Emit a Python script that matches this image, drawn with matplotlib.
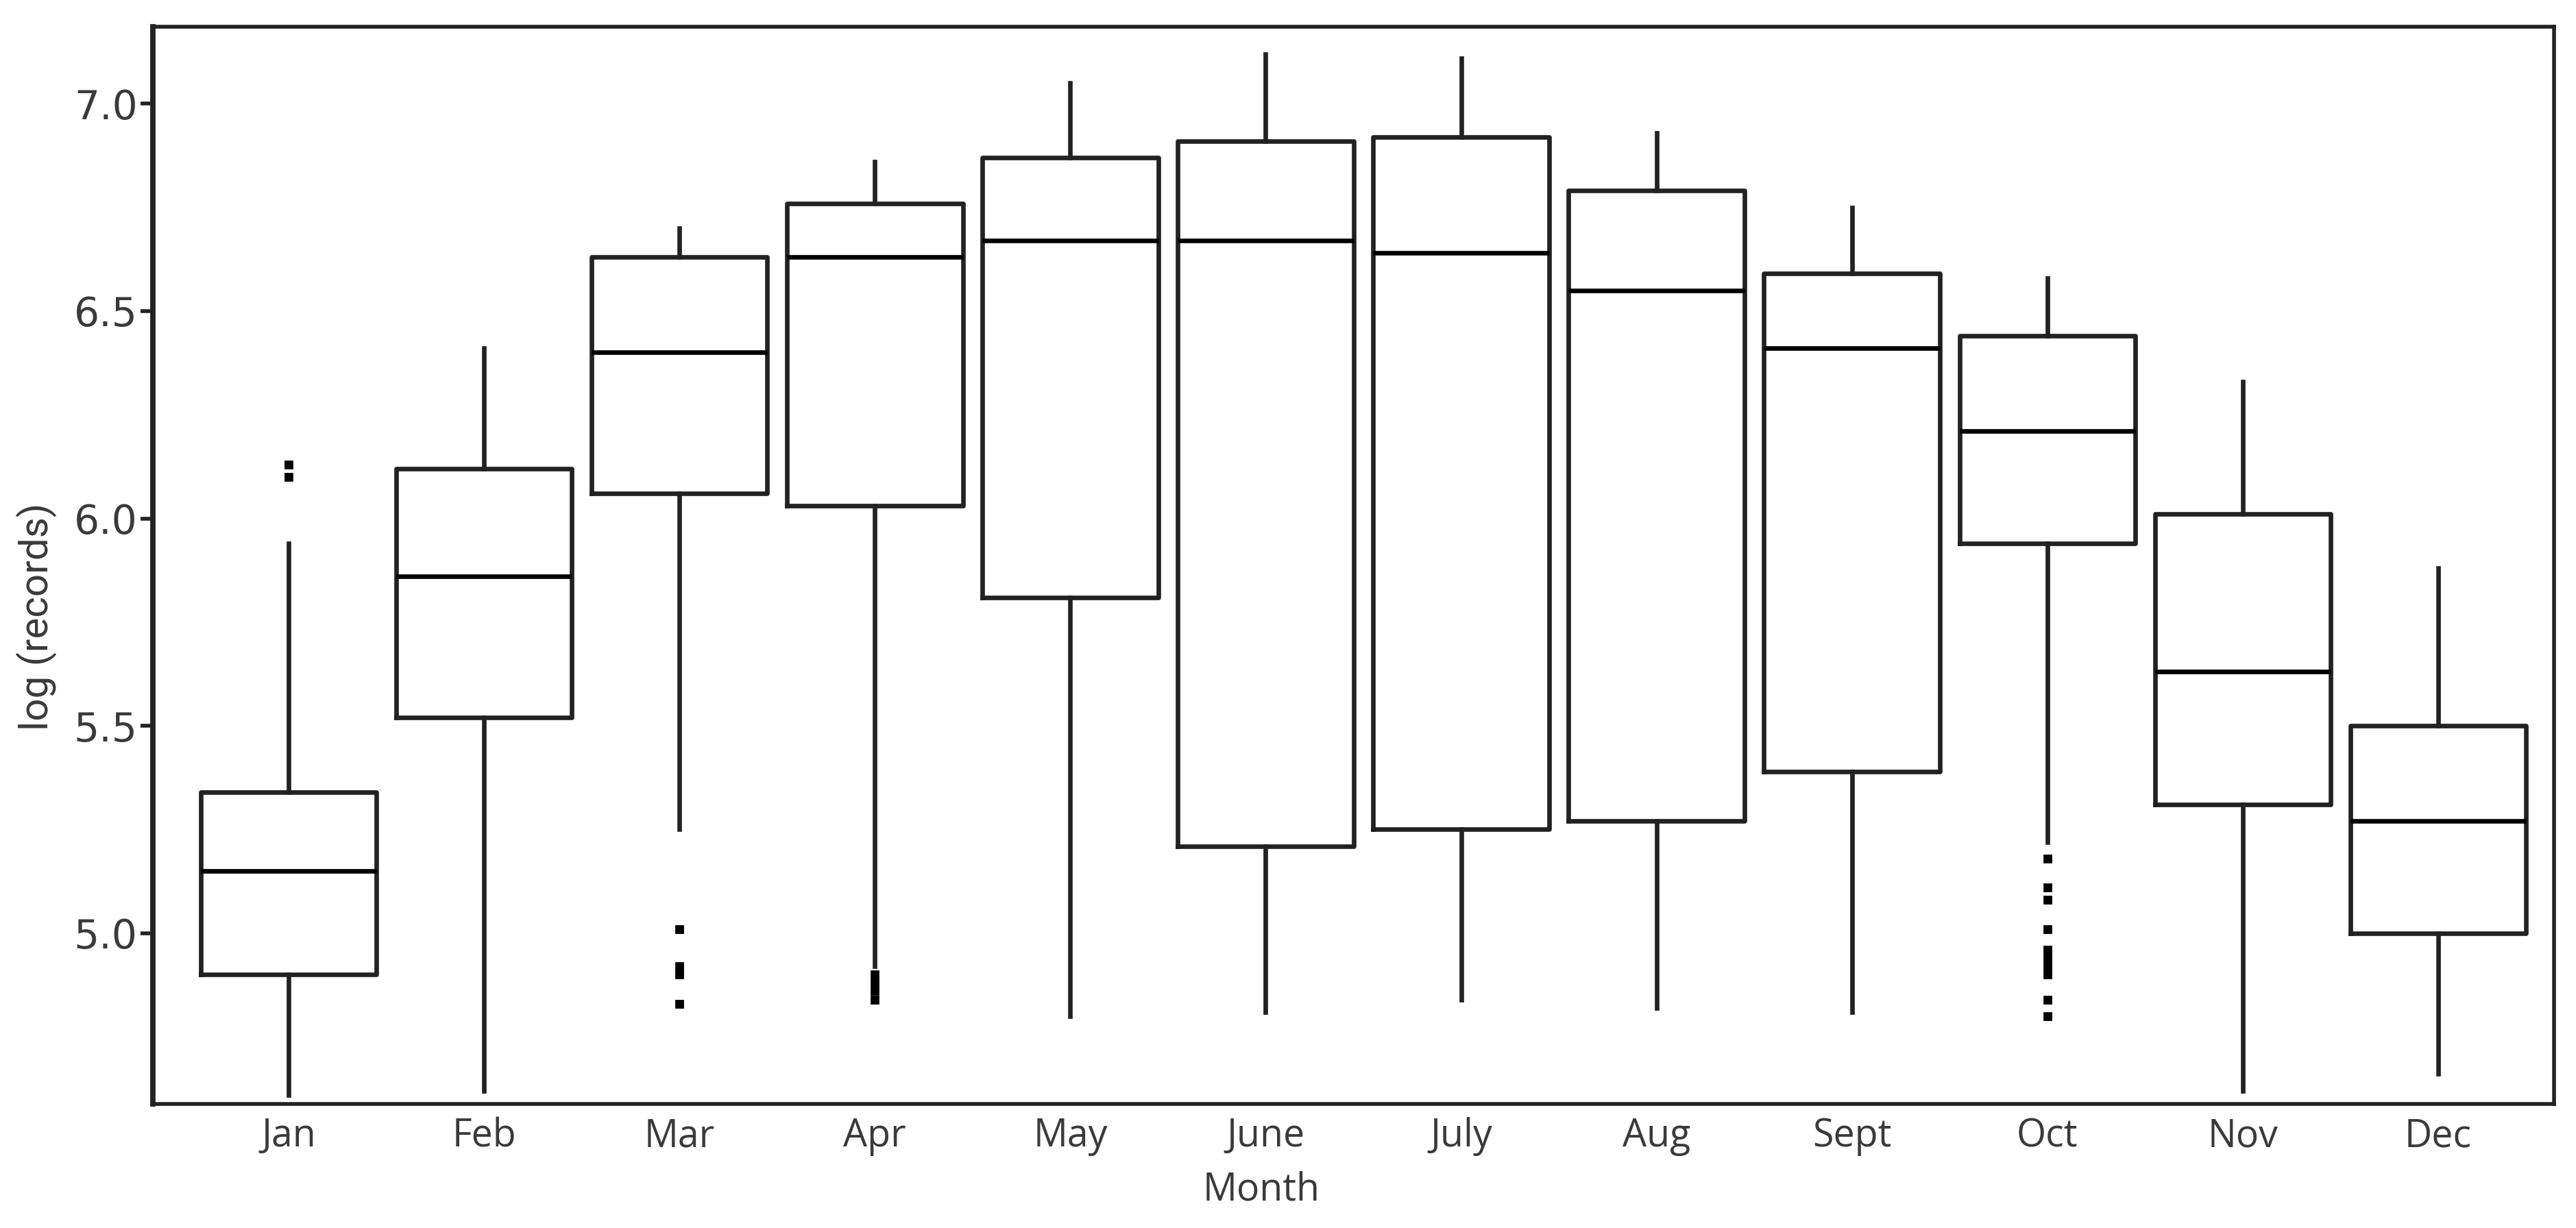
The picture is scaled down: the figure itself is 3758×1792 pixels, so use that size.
import matplotlib.pyplot as plt

# monthly box-plot statistics of log(records)
months = ['Jan', 'Feb', 'Mar', 'Apr', 'May', 'June',
          'July', 'Aug', 'Sept', 'Oct', 'Nov', 'Dec']
whisker_low = [4.61, 4.62, 5.25, 4.92, 4.80, 4.81, 4.84, 4.82, 4.81, 5.22, 4.62, 4.66]
q1 = [4.90, 5.52, 6.06, 6.03, 5.81, 5.21, 5.25, 5.27, 5.39, 5.94, 5.31, 5.00]
median = [5.15, 5.86, 6.40, 6.63, 6.67, 6.67, 6.64, 6.55, 6.41, 6.21, 5.63, 5.27]
q3 = [5.34, 6.12, 6.63, 6.76, 6.87, 6.91, 6.92, 6.79, 6.59, 6.44, 6.01, 5.50]
whisker_high = [5.94, 6.41, 6.70, 6.86, 7.05, 7.12, 7.11, 6.93, 6.75, 6.58, 6.33, 5.88]
outliers = [
    [6.10, 6.13],
    [],
    [5.01, 4.92, 4.90, 4.83],
    [4.90, 4.88, 4.86, 4.84],
    [], [], [], [], [],
    [5.18, 5.11, 5.08, 5.01, 4.96, 4.94, 4.92, 4.90, 4.84, 4.80],
    [],
    [],
]

stats = []
for i, name in enumerate(months):
    stats.append({
        'label': name,
        'whislo': whisker_low[i],
        'q1': q1[i],
        'med': median[i],
        'q3': q3[i],
        'whishi': whisker_high[i],
        'fliers': outliers[i],
    })

line_color = '#222222'
text_color = '#3a3a3a'
lw = 2.4

fig = plt.figure(figsize=(18.79, 8.96), dpi=200)
ax = fig.add_axes([0.0593, 0.101, 0.9322, 0.877])

ax.bxp(
    stats,
    positions=range(len(months)),
    widths=0.9,
    showcaps=False,
    patch_artist=False,
    boxprops=dict(color=line_color, linewidth=lw),
    medianprops=dict(color='black', linewidth=lw),
    whiskerprops=dict(color=line_color, linewidth=lw),
    flierprops=dict(marker='s', markersize=3.4, markerfacecolor='black',
                    markeredgecolor='black', linestyle='none'),
)

ax.set_xlim(-0.695, 11.593)
ax.set_ylim(4.588, 7.185)
ax.set_yticks([5.0, 5.5, 6.0, 6.5, 7.0])
ax.set_yticklabels(['5.0', '5.5', '6.0', '6.5', '7.0'],
                   fontfamily=['DejaVu Sans'])
ax.set_xticks(range(len(months)))
ax.set_xticklabels(months, fontfamily=['Open Sans', 'DejaVu Sans'], fontsize=20)

ax.tick_params(axis='y', direction='out', length=6.5, width=2.0,
               color=line_color, labelcolor=text_color, labelsize=21, pad=1.5)
ax.tick_params(axis='x', length=0, pad=7, labelcolor=text_color)

for side in ['left', 'right', 'top', 'bottom']:
    ax.spines[side].set_color(line_color)
    ax.spines[side].set_linewidth(2.0)
ax.spines['left'].set_linewidth(2.8)

ax.set_xlabel('Month', fontsize=20, color=text_color,
              fontfamily=['Open Sans', 'DejaVu Sans'])
ax.xaxis.set_label_coords(0.4616, -0.062)
ax.set_ylabel('log (records)', fontsize=21, color=text_color,
              fontfamily=['Liberation Sans Narrow', 'Roboto', 'DejaVu Sans'])
ax.yaxis.set_label_coords(-0.040, 0.4526)

fig.savefig('out.png', dpi=200, facecolor='white')
